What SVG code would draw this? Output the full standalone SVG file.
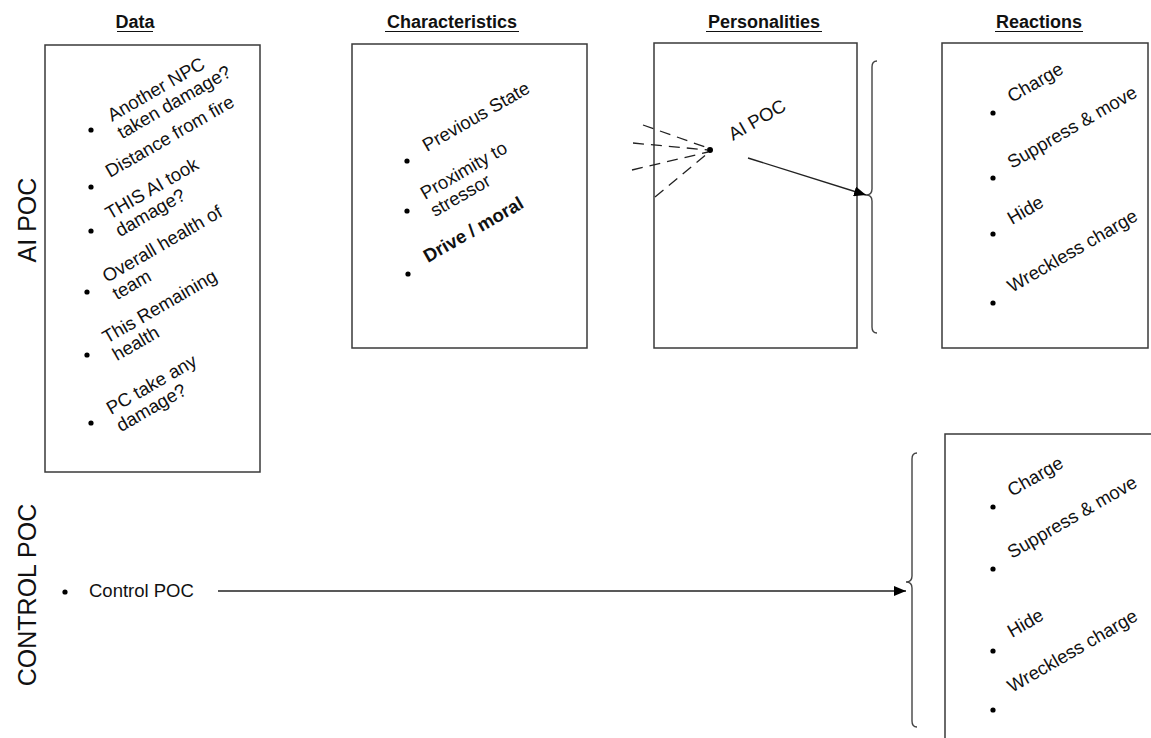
<svg xmlns="http://www.w3.org/2000/svg" width="1151" height="738" viewBox="0 0 1151 738">
<defs>
<style>
.box{fill:#fff;stroke:#3a3a3a;stroke-width:1.5}
.t{font-family:"Liberation Sans",Arial,sans-serif;font-size:18.5px;fill:#111}
.h{font-family:"Liberation Sans",Arial,sans-serif;font-size:18px;font-weight:bold;fill:#111;text-anchor:middle}
.side{font-family:"Liberation Sans",Arial,sans-serif;font-size:25px;fill:#111;text-anchor:middle}
.ul{stroke:#111;stroke-width:1.2}
.b{fill:#000}
.ln{stroke:#222;stroke-width:1.4;fill:none}
.dash{stroke:#222;stroke-width:1.3;fill:none;stroke-dasharray:11 7}
.brace{stroke:#444;stroke-width:1.4;fill:none}
</style>
<marker id="arr" viewBox="0 0 12 10" refX="12" refY="5" markerWidth="12" markerHeight="10" markerUnits="userSpaceOnUse" orient="auto">
<path d="M0,0 L12,5 L0,10 Z" fill="#000"/>
</marker>
</defs>
<rect width="1151" height="738" fill="#fff"/>

<g id="titles">
<text class="h" x="135" y="28">Data</text><line class="ul" x1="117" y1="31.5" x2="153" y2="31.5"/>
<text class="h" x="452" y="28">Characteristics</text><line class="ul" x1="385" y1="31.5" x2="519" y2="31.5"/>
<text class="h" x="764" y="28">Personalities</text><line class="ul" x1="706" y1="31.5" x2="822" y2="31.5"/>
<text class="h" x="1039" y="28">Reactions</text><line class="ul" x1="995" y1="31.5" x2="1083" y2="31.5"/>
</g>

<g id="side-labels">
<text class="side" transform="translate(36,220) rotate(-90)">AI POC</text>
<text class="side" font-size="25.8" transform="translate(36,595) rotate(-90)">CONTROL POC</text>
</g>

<g id="data">
<rect class="box" x="45" y="45" width="215" height="427"/>
<circle class="b" cx="91" cy="130" r="2.6"/><circle class="b" cx="91" cy="187" r="2.6"/><circle class="b" cx="91" cy="231" r="2.6"/>
<circle class="b" cx="87" cy="292" r="2.6"/><circle class="b" cx="87" cy="355" r="2.6"/><circle class="b" cx="91" cy="423" r="2.6"/>
<text class="t" transform="translate(112,122) rotate(-30)">Another NPC<tspan x="0" dy="20">taken damage?</tspan></text>
<text class="t" transform="translate(110,178) rotate(-30)">Distance from fire</text>
<text class="t" transform="translate(110,220) rotate(-30)">THIS AI took<tspan x="0" dy="20">damage?</tspan></text>
<text class="t" transform="translate(107,283) rotate(-30)">Overall health of<tspan x="0" dy="20">team</tspan></text>
<text class="t" transform="translate(107,344) rotate(-30)">This Remaining<tspan x="0" dy="20">health</tspan></text>
<text class="t" transform="translate(111,415) rotate(-30)">PC take any<tspan x="0" dy="20">damage?</tspan></text>
</g>

<g id="characteristics">
<rect class="box" x="352" y="44" width="235" height="304"/>
<circle class="b" cx="407" cy="161" r="2.6"/><circle class="b" cx="407" cy="211" r="2.6"/><circle class="b" cx="408" cy="274" r="2.6"/>
<text class="t" transform="translate(427,152) rotate(-30)">Previous State</text>
<text class="t" transform="translate(425,200) rotate(-30)">Proximity to<tspan x="0" dy="20">stressor</tspan></text>
<text class="t" font-weight="bold" transform="translate(428,263) rotate(-30)">Drive / moral</text>
</g>

<g id="personalities">
<rect class="box" x="654" y="43" width="203" height="305"/>
<text class="t" transform="translate(733,141) rotate(-30)">AI POC</text>
<circle class="b" cx="710" cy="150" r="3"/>
</g>

<g id="reactions">
<rect class="box" x="942" y="43" width="206" height="305"/>
<circle class="b" cx="993" cy="113" r="2.6"/><circle class="b" cx="993" cy="178" r="2.6"/><circle class="b" cx="993" cy="234" r="2.6"/><circle class="b" cx="993" cy="303" r="2.6"/>
<text class="t" transform="translate(1012,103) rotate(-30)">Charge</text>
<text class="t" transform="translate(1012,169) rotate(-30)">Suppress &amp; move</text>
<text class="t" transform="translate(1012,225) rotate(-30)">Hide</text>
<text class="t" transform="translate(1012,293) rotate(-30)">Wreckless charge</text>
</g>

<g id="reactions-control">
<rect class="box" x="945" y="434" width="230" height="330"/>
<circle class="b" cx="993" cy="507" r="2.6"/><circle class="b" cx="993" cy="569" r="2.6"/><circle class="b" cx="993" cy="651" r="2.6"/><circle class="b" cx="993" cy="710" r="2.6"/>
<text class="t" transform="translate(1012,497) rotate(-30)">Charge</text>
<text class="t" transform="translate(1012,559) rotate(-30)">Suppress &amp; move</text>
<text class="t" transform="translate(1012,638) rotate(-30)">Hide</text>
<text class="t" transform="translate(1012,693) rotate(-30)">Wreckless charge</text>
</g>

<g id="control-poc">
<circle class="b" cx="65" cy="592" r="2.6"/>
<text class="t" x="89" y="597" font-size="18.8">Control POC</text>
</g>

<g id="connectors">
<path class="brace" d="M877,61 Q872,61 872,67 L872,189 Q872,195 866,195 Q872,195 872,201 L872,327 Q872,333 877,333"/>
<path class="brace" d="M917,453 Q912,453 912,459 L912,576 Q912,582 906,582 Q912,582 912,588 L912,721 Q912,727 917,727"/>
<line class="dash" x1="643" y1="125" x2="708" y2="148"/>
<line class="dash" x1="633" y1="143" x2="708" y2="150"/>
<line class="dash" x1="632" y1="170" x2="708" y2="152"/>
<line class="dash" x1="655" y1="197" x2="708" y2="153"/>
<line class="ln" x1="748" y1="158" x2="866" y2="195" marker-end="url(#arr)"/>
<line class="ln" x1="218" y1="591" x2="906" y2="591" marker-end="url(#arr)"/>
</g>
</svg>
